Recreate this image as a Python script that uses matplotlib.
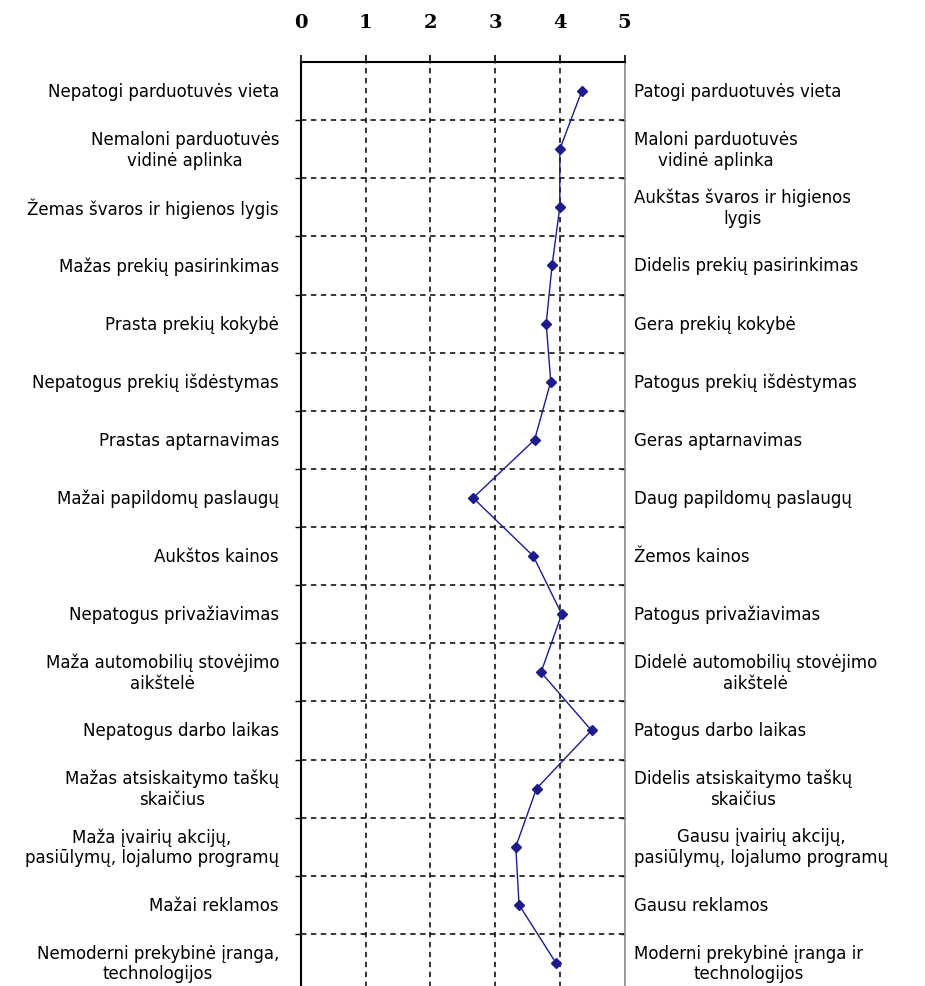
import matplotlib.pyplot as plt
import matplotlib.lines as mlines
import numpy as np

left_labels = [
    "Nepatogi parduotuvės vieta",
    "Nemaloni parduotuvės\nvidinė aplinka",
    "Žemas švaros ir higienos lygis",
    "Mažas prekių pasirinkimas",
    "Prasta prekių kokybė",
    "Nepatogus prekių išdėstymas",
    "Prastas aptarnavimas",
    "Mažai papildomų paslaugų",
    "Aukštos kainos",
    "Nepatogus privažiavimas",
    "Maža automobilių stovėjimo\naikštelė",
    "Nepatogus darbo laikas",
    "Mažas atsiskaitymo taškų\nskaičius",
    "Maža įvairių akcijų,\npasiūlymų, lojalumo programų",
    "Mažai reklamos",
    "Nemoderni prekybinė įranga,\ntechnologijos",
]
right_labels = [
    "Patogi parduotuvės vieta",
    "Maloni parduotuvės\nvidinė aplinka",
    "Aukštas švaros ir higienos\nlygis",
    "Didelis prekių pasirinkimas",
    "Gera prekių kokybė",
    "Patogus prekių išdėstymas",
    "Geras aptarnavimas",
    "Daug papildomų paslaugų",
    "Žemos kainos",
    "Patogus privažiavimas",
    "Didelė automobilių stovėjimo\naikštelė",
    "Patogus darbo laikas",
    "Didelis atsiskaitymo taškų\nskaičius",
    "Gausu įvairių akcijų,\npasiūlymų, lojalumo programų",
    "Gausu reklamos",
    "Moderni prekybinė įranga ir\ntechnologijos",
]
scores = [4.34, 4.0, 4.0, 3.88, 3.79, 3.86, 3.61, 2.66, 3.59, 4.03, 3.71, 4.49, 3.64, 3.32, 3.37, 3.94]
x_ticks = [0, 1, 2, 3, 4, 5]

n = len(scores)
rows = np.arange(n) + 0.5

W, H = 925, 987
fig = plt.figure(figsize=(W / 100, H / 100), dpi=100)
x0, x1, y0, y1 = 301, 624.5, 63, 993
ax = fig.add_axes([x0 / W, 1 - y1 / H, (x1 - x0) / W, (y1 - y0) / H])

ax.plot(scores, rows, color="#1c1c8c", lw=1, marker="D", ms=5, zorder=3)

ax.set_xlim(0, 5)
ax.set_ylim(n, 0)

# grid
for xv in x_ticks[1:-1]:
    ax.axvline(xv, color="black", lw=1.1, ls=(0, (3.5, 3)), zorder=1)
for yv in range(1, n):
    ax.axhline(yv, color="black", lw=1.1, ls=(0, (3.5, 3)), zorder=1)

ax.xaxis.tick_top()
ax.set_xticks(x_ticks)
ax.set_xticklabels([str(v) for v in x_ticks], family="DejaVu Serif",
                   fontweight="bold", fontsize=14)
ax.tick_params(axis="x", direction="out", length=5, width=1.2, pad=17)
ax.set_yticks(range(1, n))
ax.set_yticklabels([])
ax.tick_params(axis="y", left=True, right=True, direction="out", length=4, width=1)
# right side ticks point inward, in grey
for t in ax.yaxis.get_major_ticks():
    t.tick2line.set_marker(mlines.TICKLEFT)
    t.tick2line.set_color("#8a8a8a")
    t.tick2line.set_markersize(3)

for s in ["top", "left"]:
    ax.spines[s].set_linewidth(1.5)
    ax.spines[s].set_color("black")
ax.spines["right"].set_color("#8a8a8a")
ax.spines["right"].set_linewidth(1.2)
ax.spines["bottom"].set_visible(False)

tr = ax.get_yaxis_transform()
for i, (lt, rt) in enumerate(zip(left_labels, right_labels)):
    ax.text(-0.068, rows[i], lt, transform=tr, ha="right", va="center",
            multialignment="center", fontsize=12, linespacing=1.2)
    ax.text(1.03, rows[i], rt, transform=tr, ha="left", va="center",
            multialignment="center", fontsize=12, linespacing=1.2)

fig.savefig("out.png", dpi=100)
